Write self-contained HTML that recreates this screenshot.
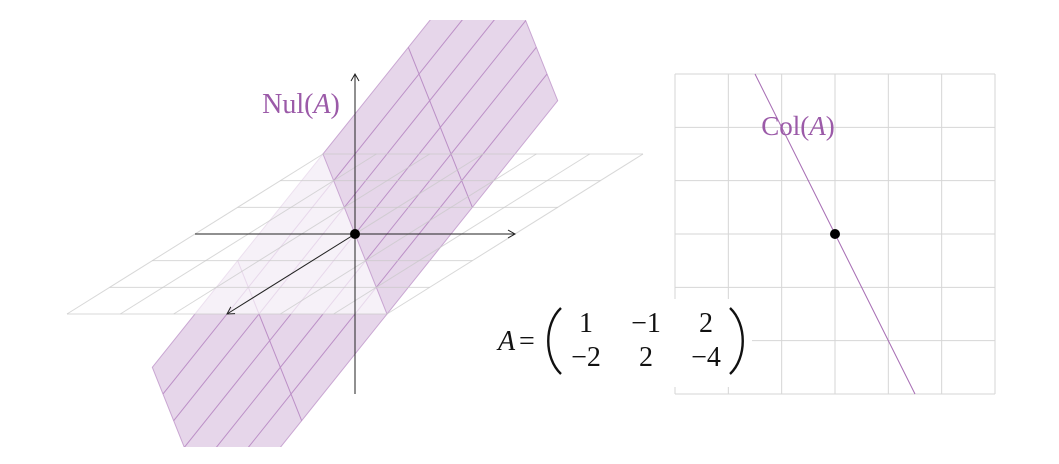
<!DOCTYPE html>
<html><head><meta charset="utf-8"><style>
html,body{margin:0;padding:0;background:#fff;width:1059px;height:464px;overflow:hidden;}
svg{display:block;}
</style></head><body>
<svg id="fig" width="1059" height="464" viewBox="0 0 1059 464" xmlns="http://www.w3.org/2000/svg">
<defs>
<clipPath id="clipY"><rect x="0" y="20" width="1059" height="427"/></clipPath>
</defs>
<g id="left"></g>
<g id="right"></g>
</svg>
<script>
// 3D figure data
const nullBasisA = [1, 1, 0];
const nullBasisB = [-2, 0, 1];
const sRange = [-3, 3];
const tRange = [-2, 2];
const floorRange = [-3, 3];
const axisLen = 3;
// column space
const colDir = [1, -2];
const gridRange = [-3, 3];

const NS = 'http://www.w3.org/2000/svg';
const O = [355, 234], U = 53.333;
function P(v){
  return [O[0] + v[0]*(-0.8*U) + v[1]*U, O[1] + v[0]*(0.5*U) - v[2]*U];
}
function comb(s,t){return [s*nullBasisA[0]+t*nullBasisB[0], s*nullBasisA[1]+t*nullBasisB[1], s*nullBasisA[2]+t*nullBasisB[2]];}
function mk(tag, attrs, parent){const e=document.createElementNS(NS,tag);for(const k in attrs)e.setAttribute(k,attrs[k]);parent.appendChild(e);return e;}
function pts(a){return a.map(p=>p[0].toFixed(2)+','+p[1].toFixed(2)).join(' ');}
const L = document.getElementById('left');

function planePart(t0,t1,name){
  const g = mk('g',{'clip-path':'url(#clipY)'},L);
  
  
  const poly = [comb(sRange[0],t0),comb(sRange[1],t0),comb(sRange[1],t1),comb(sRange[0],t1)].map(P);
  mk('polygon',{points:pts(poly),fill:'#e6d6ea',stroke:'#c9a6d2','stroke-width':1},g);
  for(let s=sRange[0]+1;s<sRange[1];s++){
    const l = mk('line',{x1:P(comb(s,t0))[0],y1:P(comb(s,t0))[1],x2:P(comb(s,t1))[0],y2:P(comb(s,t1))[1],stroke:'#bb8fc6','stroke-width':1},g);
    
    
  }
  for(let t=Math.ceil(t0);t<=t1;t++){
    if(t===0||t===tRange[0]||t===tRange[1])continue;
    const a=P(comb(sRange[0],t)), b=P(comb(sRange[1],t));
    const l = mk('line',{x1:a[0],y1:a[1],x2:b[0],y2:b[1],stroke:'#bb8fc6','stroke-width':1},g);
    
    
  }
}
planePart(tRange[0],0,'null-plane-lower');
const fr=floorRange;
const floor = mk('polygon',{points:pts([[fr[1],fr[0],0],[fr[1],fr[1],0],[fr[0],fr[1],0],[fr[0],fr[0],0]].map(P)),fill:'#ffffff','fill-opacity':0.65},L);


const back = mk('line',{x1:P([0,0,0])[0],y1:P([0,0,0])[1],x2:P([-axisLen,0,0])[0],y2:P([-axisLen,0,0])[1],stroke:'#888','stroke-width':1},L);


planePart(0,tRange[1],'null-plane-upper');
const fg = mk('g',{},L);


for(let i=fr[0];i<=fr[1];i++){
  let a=P([i,fr[0],0]),b=P([i,fr[1],0]);
  mk('line',{x1:a[0],y1:a[1],x2:b[0],y2:b[1],stroke:'#c8c8c8','stroke-opacity':0.7,'stroke-width':1},fg);
  a=P([fr[0],i,0]);b=P([fr[1],i,0]);
  mk('line',{x1:a[0],y1:a[1],x2:b[0],y2:b[1],stroke:'#c8c8c8','stroke-opacity':0.7,'stroke-width':1},fg);
}
function arrow(from,to,name,col){
  const g=mk('g',{},L);
  
  
  mk('line',{x1:from[0],y1:from[1],x2:to[0],y2:to[1],stroke:col,'stroke-width':1},g);
  const dx=to[0]-from[0],dy=to[1]-from[1],d=Math.hypot(dx,dy),ux=dx/d,uy=dy/d;
  const h=7,w=4;
  const p1=[to[0]-ux*h-uy*w,to[1]-uy*h+ux*w],p2=[to[0]-ux*h+uy*w,to[1]-uy*h-ux*w];
  mk('polyline',{points:pts([p1,to,p2]),fill:'none',stroke:col,'stroke-width':1},g);
}
arrow(P([0,-axisLen,0]),P([0,axisLen,0]),'x2-axis','#222');
arrow(P([0,0,-axisLen]),P([0,0,axisLen]),'x3-axis','#222');
arrow(P([0,0,0]),P([axisLen,0,0]),'x1-axis','#222');
const od=mk('circle',{cx:O[0],cy:O[1],r:5,fill:'#000'},L);


const nt=mk('text',{x:301,y:113,'text-anchor':'middle','font-family':'Liberation Serif, serif','font-size':28,fill:'#9b5aa8'},L);


nt.innerHTML='Nul(<tspan font-style="italic">A</tspan>)';

const R=document.getElementById('right');
const C=[835,234];
function Q(x,y){return [C[0]+x*U, C[1]-y*U];}
for(let i=gridRange[0];i<=gridRange[1];i++){
  let a=Q(i,gridRange[0]),b=Q(i,gridRange[1]);
  const l1=mk('line',{x1:a[0],y1:a[1],x2:b[0],y2:b[1],stroke:'#d6d6d6','stroke-width':1},R);
  
  
  a=Q(gridRange[0],i);b=Q(gridRange[1],i);
  const l2=mk('line',{x1:a[0],y1:a[1],x2:b[0],y2:b[1],stroke:'#d6d6d6','stroke-width':1},R);
  
  
}
const k=gridRange[1]/Math.abs(colDir[1]);
const a1=Q(-colDir[0]*k,-colDir[1]*k), b1=Q(colDir[0]*k,colDir[1]*k);
const cl=mk('line',{x1:a1[0],y1:a1[1],x2:b1[0],y2:b1[1],stroke:'#a56bb3','stroke-width':1},R);


const cd=mk('circle',{cx:C[0],cy:C[1],r:5,fill:'#000'},R);


const ct=mk('text',{x:798,y:135,'text-anchor':'middle','font-family':'Liberation Serif, serif','font-size':27,fill:'#9b5aa8'},R);


ct.innerHTML='Col(<tspan font-style="italic">A</tspan>)';

const M=mk('g',{'font-family':'Liberation Serif, serif','font-size':28,fill:'#111'},document.getElementById('fig'));


mk('rect',{x:674,y:299,width:78,height:88,fill:'#fff'},M);
const lab=mk('text',{x:498,y:350},M);lab.innerHTML='<tspan font-style="italic">A</tspan>';
const eq=mk('text',{x:519,y:350},M);eq.textContent='=';
mk('path',{d:'M561,308 C544,324 544,358 561,374',fill:'none',stroke:'#111','stroke-width':2.4},M);
mk('path',{d:'M730,308 C747,324 747,358 730,374',fill:'none',stroke:'#111','stroke-width':2.4},M);
const rows=[['1','\u22121','2'],['\u22122','2','\u22124']];
const cx=[586,646,706], ry=[332,366];
rows.forEach((r,i)=>r.forEach((v,j)=>{const t=mk('text',{x:cx[j],y:ry[i],'text-anchor':'middle'},M);t.textContent=v;}));
</script>
</body></html>
